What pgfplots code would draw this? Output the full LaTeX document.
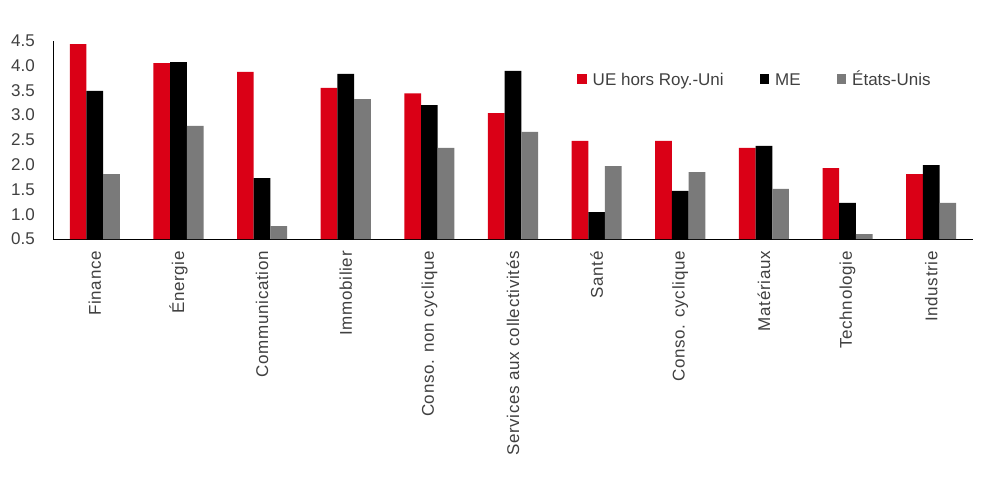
\documentclass[border=0pt]{standalone}
\usepackage{pgfplots}
\pgfplotsset{compat=1.18}
\usepackage{fontspec}
\setmainfont{Liberation Sans}
\newfontfamily\catfont[LetterSpace=4]{Liberation Sans}
\definecolor{cred}{RGB}{218,0,22}
\definecolor{cgrey}{RGB}{122,122,122}
\definecolor{ctext}{RGB}{64,64,64}
\begin{document}
\fontsize{17}{20}\selectfont
\begin{tikzpicture}
\path[use as bounding box] (-53pt,-238pt) rectangle (938pt,239pt);
\begin{axis}[
  at={(0pt,0pt)}, anchor=south west,
  scale only axis, width=920pt, height=198.3pt,
  ybar=0pt, bar width=16.7pt,
  xmin=-0.5, xmax=10.5, ymin=0.5, ymax=4.5,
  ytick={0.5,1.0,1.5,2.0,2.5,3.0,3.5,4.0,4.5},
  yticklabel style={/pgf/number format/.cd, fixed, fixed zerofill, precision=1, /tikz/.cd, inner sep=0pt},
  yticklabel shift=18pt,
  /pgf/number format/assume math mode=true,
  xtick={0,1,2,3,4,5,6,7,8,9,10},
  xticklabels={Finance,Énergie,Communication,Immobilier,Conso. non cyclique,Services aux collectivités,Santé,Conso. cyclique,Matériaux,Technologie,Industrie},
  xticklabel style={rotate=90, anchor=east, inner sep=0pt, font=\catfont\fontsize{17}{20}\selectfont},
  xticklabel shift=12pt,
  axis x line*=bottom, axis y line*=left,
  axis line style={black, line width=0.8pt, -},
  major tick length=0pt,
  tick label style={text=ctext},
  yticklabel style={font=\fontsize{17}{20}\selectfont},
  legend image code/.code={\fill[#1] (0pt,-4.7pt) rectangle (9.5pt,4.7pt);},
  legend style={draw=none, fill=none, legend columns=3,
    at={(axis description cs:0.5696,0.807)}, anchor=west, inner sep=0pt,
    nodes={text height=12.5pt, text depth=0pt},
    /tikz/every odd column/.append style={column sep=4pt},
    /tikz/every even column/.append style={column sep=34pt},
    font=\fontsize{17}{20}\selectfont, text=ctext},
]
\addplot[fill=cred, draw=none] coordinates {(0,4.43) (1,4.05) (2,3.87) (3,3.55) (4,3.44) (5,3.04) (6,2.48) (7,2.48) (8,2.34) (9,1.93) (10,1.81)};
\addplot[fill=black, draw=none] coordinates {(0,3.49) (1,4.07) (2,1.73) (3,3.83) (4,3.20) (5,3.89) (6,1.04) (7,1.47) (8,2.38) (9,1.23) (10,1.99)};
\addplot[fill=cgrey, draw=none] coordinates {(0,1.81) (1,2.78) (2,0.76) (3,3.32) (4,2.34) (5,2.66) (6,1.97) (7,1.85) (8,1.51) (9,0.60) (10,1.23)};
\legend{UE hors Roy.-Uni,ME,États-Unis}
\end{axis}
\end{tikzpicture}
\end{document}
